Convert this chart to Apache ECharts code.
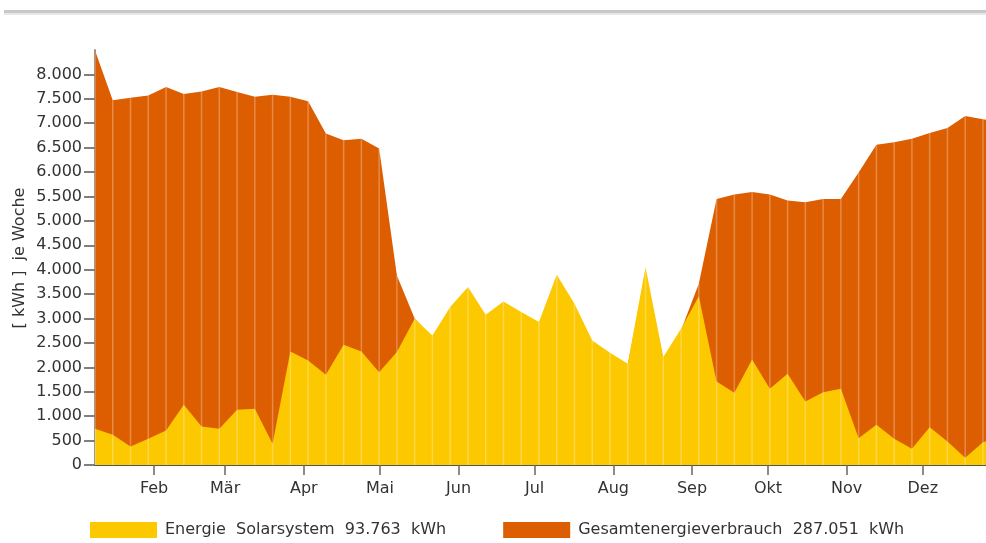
<!DOCTYPE html>
<html>
<head>
<meta charset="utf-8">
<script src="https://cdn.jsdelivr.net/npm/echarts@6/dist/echarts.min.js"></script>
<style>
html,body{margin:0;padding:0;background:#fff;}
#chart{width:986px;height:543px;}
</style>
</head>
<body>
<div id="chart"></div>
<script>
// Weekly readings (kWh per week), first reading on day-of-year ~7.7, then weekly
const firstWeekDay = 7.7;
const solar = [741,618,379,536,707,1233,789,741,1130,1150,433,2325,2141,1847,2462,2325,1902,2312,2995,2653,3234,3644,3077,3350,3132,2927,3896,3302,2551,2298,2073,4053,2210,2790,3457,1710,1478,2161,1560,1868,1301,1492,1560,550,823,536,331,775,481,147,468,580];
const total = [8490,7470,7520,7570,7740,7600,7650,7740,7640,7540,7585,7540,7450,6790,6650,6680,6480,3880,3000,2600,3150,3550,3000,3300,3080,2880,3800,3250,2500,2250,2050,3950,2180,2760,3710,5450,5540,5590,5540,5420,5380,5450,5450,5990,6560,6610,6680,6800,6900,7150,7080,7040];
// Month starts (day of year) and labels
const monthStarts = [31,59,90,120,151,181,212,243,273,304,334];
const monthLabels = ['Feb','Mär','Apr','Mai','Jun','Jul','Aug','Sep','Okt','Nov','Dez'];
const yTicks = [0,500,1000,1500,2000,2500,3000,3500,4000,4500,5000,5500,6000,6500,7000,7500,8000];
const solarName = 'Energie  Solarsystem  93.763  kWh';
const totalName = 'Gesamtenergieverbrauch  287.051  kWh';
const yAxisTitle = '[ kWh ]  je Woche';

const days = solar.map((_, i) => firstWeekDay + 7 * i);
const solarData = solar.map((v, i) => [days[i], v]);
const totalData = total.map((v, i) => [days[i], v]);
const stripeData = solar.map((v, i) => [days[i], Math.max(v, total[i])]);

function fmtDE(v) {
  if (v < 1000) return String(v);
  const t = Math.floor(v / 1000), r = v % 1000;
  return t + '.' + String(r).padStart(3, '0');
}

const FONT = 'DejaVu Sans';
const chart = echarts.init(document.getElementById('chart'), null, {renderer: 'canvas'});
chart.setOption({
  animation: false,
  backgroundColor: '#ffffff',
  grid: {left: 95, right: 0, top: 50, bottom: 78, containLabel: false},
  legend: {
    data: [solarName, totalName],
    left: 85, top: 517,
    itemWidth: 67, itemHeight: 16, itemGap: 57,
    icon: 'rect',
    selectedMode: false,
    textStyle: {fontFamily: FONT, fontSize: 16, color: '#333', padding: [0,0,0,3]}
  },
  xAxis: {
    type: 'value',
    min: firstWeekDay,
    max: 358.9,
    splitLine: {show: false},
    axisLine: {show: true, onZero: false, lineStyle: {color: '#555', width: 2}},
    axisTick: {show: true, length: 10, customValues: monthStarts, lineStyle: {color: '#666', width: 1.5}},
    axisLabel: {
      customValues: monthStarts,
      margin: 16,
      fontFamily: FONT, fontSize: 16, color: '#333',
      formatter: function (v) { const k = monthStarts.indexOf(v); return k >= 0 ? monthLabels[k] : ''; }
    }
  },
  yAxis: {
    type: 'value',
    min: 0, max: 8500, interval: 500,
    splitLine: {show: false},
    axisLine: {show: true, lineStyle: {color: '#555', width: 1.5}},
    axisTick: {show: true, length: 11, customValues: yTicks, lineStyle: {color: '#555', width: 1.5}},
    axisLabel: {
      customValues: yTicks,
      margin: 13,
      fontFamily: FONT, fontSize: 16, color: '#333',
      formatter: function (v) { return fmtDE(v); }
    }
  },
  graphic: [
    {type: 'rect', left: 4, top: 10, shape: {width: 982, height: 3}, style: {fill: '#c8c8c8'}, silent: true},
    {type: 'rect', left: 4, top: 13, shape: {width: 982, height: 2}, style: {fill: '#e8e8e8'}, silent: true},
    {type: 'text', x: 20, y: 258, rotation: Math.PI / 2,
     style: {text: yAxisTitle, fontFamily: FONT, fontSize: 16, fill: '#333', align: 'center', verticalAlign: 'middle'}, silent: true}
  ],
  series: [
    {
      name: totalName, type: 'line', data: totalData,
      showSymbol: false, symbol: 'none', silent: true,
      itemStyle: {color: '#DD5E00'},
      lineStyle: {width: 0, color: '#DD5E00'},
      areaStyle: {color: '#DD5E00', opacity: 1},
      z: 2
    },
    {
      name: solarName, type: 'line', data: solarData,
      showSymbol: false, symbol: 'none', silent: true,
      itemStyle: {color: '#FCC800'},
      lineStyle: {width: 0, color: '#FCC800'},
      areaStyle: {color: '#FCC800', opacity: 1},
      z: 3
    },
    {
      name: 'stripes', type: 'bar', data: stripeData,
      barWidth: 1.5, silent: true,
      itemStyle: {color: 'rgba(255,255,255,0.28)'},
      z: 4
    }
  ]
});
</script>
</body>
</html>
